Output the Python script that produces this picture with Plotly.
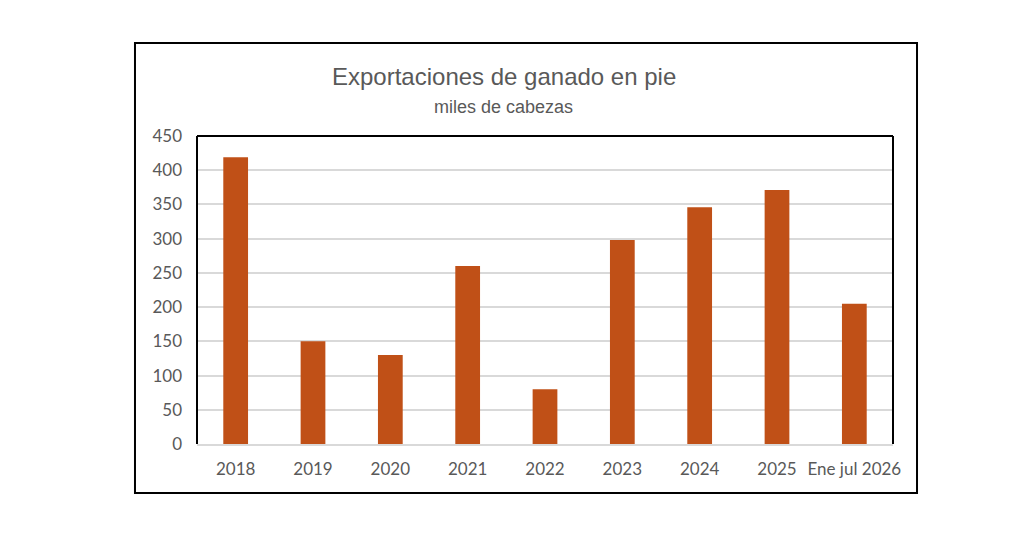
import plotly.graph_objects as go

# Exportaciones de ganado en pie (miles de cabezas)
years = ['2018', '2019', '2020', '2021', '2022', '2023', '2024', '2025', 'Ene jul 2026']
heads = [419, 150, 130, 260, 80, 298, 346, 371, 205]
y_ticks = [0, 50, 100, 150, 200, 250, 300, 350, 400, 450]

bar_color = '#C05017'
grey_text = '#595959'
grid_color = '#D9D9D9'

fig = go.Figure()
fig.add_trace(go.Bar(x=years, y=heads, marker_color=bar_color, marker_line_width=0))

fig.update_layout(
    width=1024, height=535,
    margin=dict(l=189, r=139, t=128, b=99),
    paper_bgcolor='white', plot_bgcolor='white',
    bargap=0.68,
    showlegend=False,
    font=dict(family='Lato, Open Sans, sans-serif', size=17, color=grey_text),
)

fig.update_yaxes(
    range=[0, 450], tickvals=y_ticks, showgrid=True,
    gridcolor=grid_color, gridwidth=1.5, zeroline=False,
    showline=False, ticks='', ticklabelstandoff=14,
)
fig.update_xaxes(
    showgrid=False, showline=True, linecolor=grid_color, linewidth=1.5,
    ticks='', ticklabelstandoff=9,
)

# black border on top, left and right of the plot area
for x0, y0, x1, y1 in [(0, 0, 0, 1), (0, 1, 1, 1), (1, 0, 1, 1)]:
    fig.add_shape(type='line', xref='x domain', yref='y domain',
                  x0=x0, y0=y0, x1=x1, y1=y1,
                  line=dict(color='black', width=2))

# outer chart frame
fig.add_shape(type='rect', xref='paper', yref='paper',
              x0=-0.0891, x1=1.0345, y0=-0.159, y1=1.302,
              line=dict(color='black', width=2), layer='below')

fig.add_annotation(text='Exportaciones de ganado en pie', xref='paper', yref='paper',
                   x=0.441, y=1.192, showarrow=False, xanchor='center', yanchor='middle',
                   font=dict(family='Liberation Sans, Arial, sans-serif',
                             size=24, color=grey_text))
fig.add_annotation(text='miles de cabezas', xref='paper', yref='paper',
                   x=0.441, y=1.094, showarrow=False, xanchor='center', yanchor='middle',
                   font=dict(family='Liberation Sans, Arial, sans-serif',
                             size=18, color=grey_text))

fig.write_html('out.html')
